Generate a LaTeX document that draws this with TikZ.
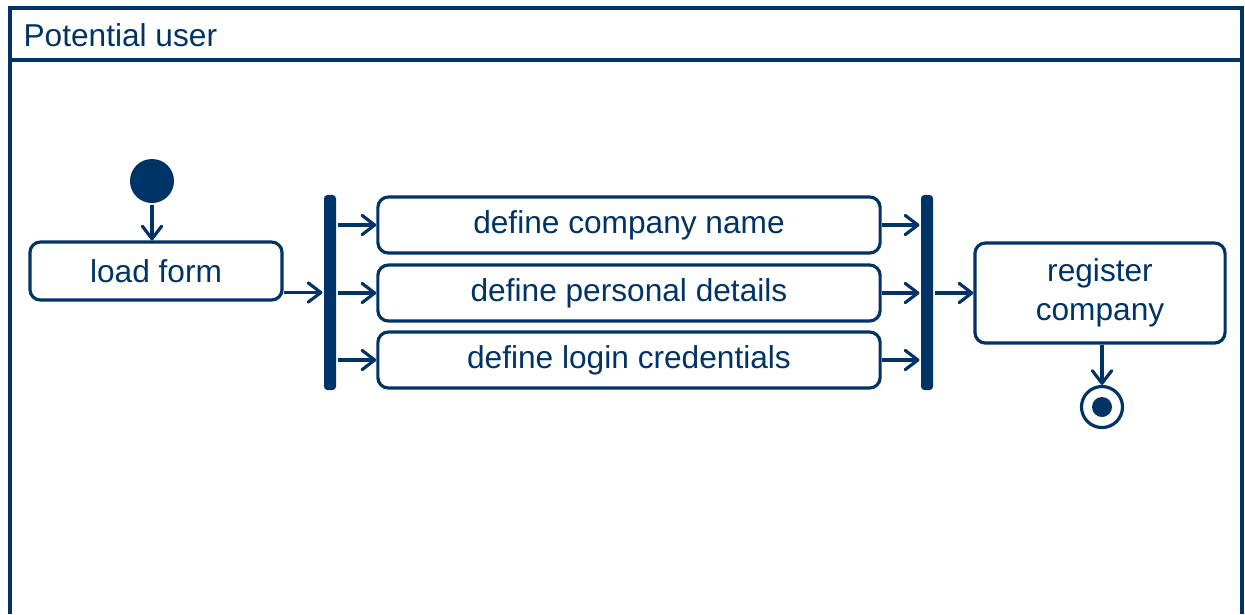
\documentclass[tikz,border=0pt]{standalone}
\usepackage{fontspec}
\setmainfont{Liberation Sans}
\usetikzlibrary{arrows.meta}
\definecolor{umlblue}{RGB}{0,51,102}

\begin{document}
\begin{tikzpicture}[x=0.01cm,y=-0.01cm,color=umlblue,line width=0.9pt,
    font=\fontsize{9}{11}\selectfont]

      \useasboundingbox (0,0) rectangle (1245,614);

      % swimlane
      \draw[line width=1.1pt] (10,614) -- (10,8) -- (1242,8) -- (1242,614);
      \draw[line width=1.1pt] (10,60) -- (1242,60);
      \node[anchor=west,inner sep=0pt] (lane) at (22,35) {Potential user};

      \begin{scope}[every node/.style={draw,rounded corners=3pt,align=center,inner sep=0pt}]
        \node[minimum width=2.52cm,minimum height=0.58cm] (load)     at (156,271)  {load form};
        \node[minimum width=5.02cm,minimum height=0.56cm] (name)     at (629,225)  {\raisebox{-0.6pt}{define company name}};
        \node[minimum width=5.02cm,minimum height=0.56cm] (details)  at (629,293)  {\raisebox{-0.6pt}{define personal details}};
        \node[minimum width=5.02cm,minimum height=0.56cm] (creds)    at (629,360)  {\raisebox{-0.6pt}{define login credentials}};
        \node[minimum width=2.5cm,minimum height=1cm]     (register) at (1100,293) {register\\company};
      \end{scope}

      \begin{scope}[every node/.style={fill,inner sep=0pt}]
        \node[circle,minimum size=0.44cm] (start) at (152,181) {};
        \node[rounded corners=1pt,minimum width=0.12cm,minimum height=1.95cm] (fork) at (330,292.5) {};
        \node[rounded corners=1pt,minimum width=0.12cm,minimum height=1.95cm] (join) at (927,292.5) {};
        \node[circle,fill=none,draw,minimum size=0.41cm] (stop) at (1102,407) {};
        \node[circle,minimum size=0.2cm] (stopdot) at (stop) {};
      \end{scope}

      \begin{scope}[every edge/.style={draw,-{Straight Barb[length=3.6pt,width=5.5pt,round]}}]
        \path (start) edge (start |- load.north);
        \path (load.east |- fork) edge (fork.west);
        \path (fork.east |- name) edge (name.west);
        \path (fork.east |- details) edge (details.west);
        \path (fork.east |- creds) edge (creds.west);
        \path (name.east) edge (name.east -| join.west);
        \path (details.east) edge (details.east -| join.west);
        \path (creds.east) edge (creds.east -| join.west);
        \path (join.east |- register) edge (register.west);
        \path (register.south -| stop) edge (stop.north);
      \end{scope}

    \end{tikzpicture}
\end{document}
